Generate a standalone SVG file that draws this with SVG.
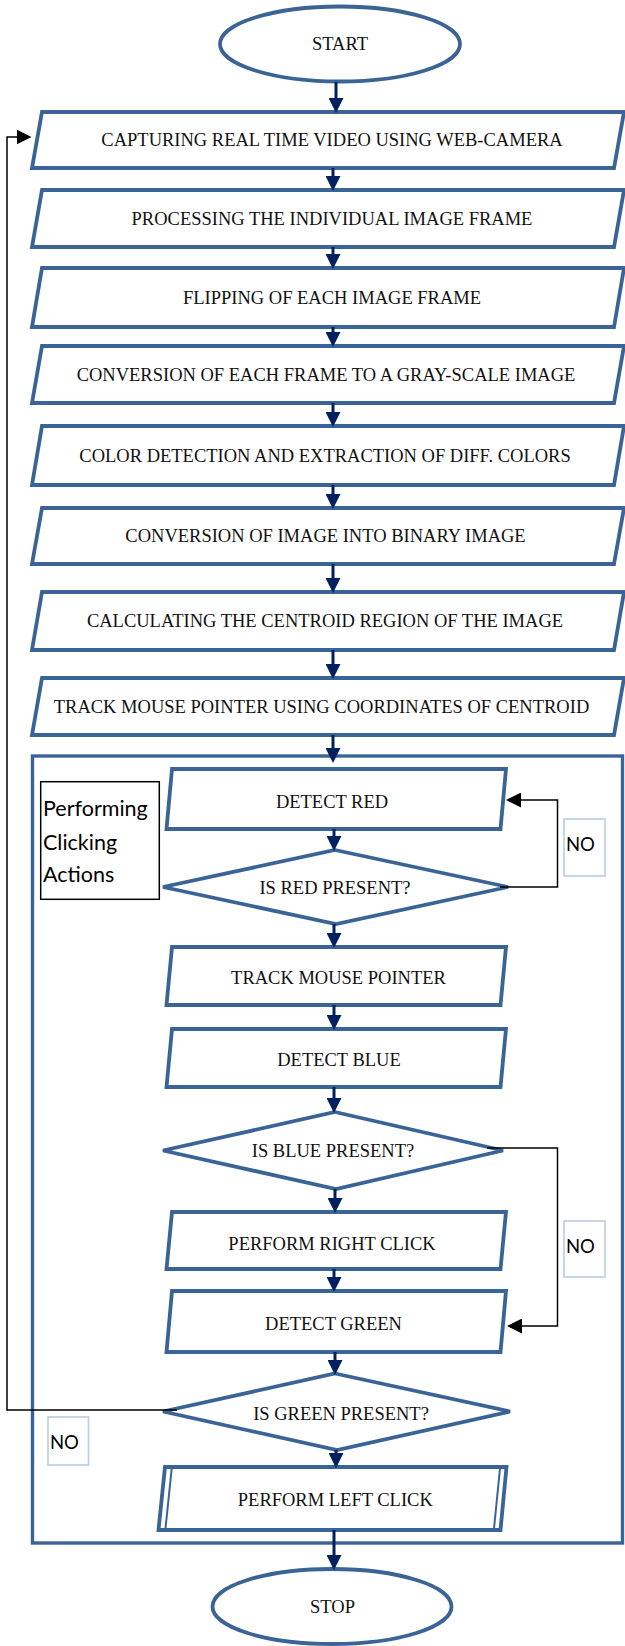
<svg xmlns="http://www.w3.org/2000/svg" width="625" height="1646" viewBox="0 0 625 1646">
  <style>
    .shape { fill: #ffffff; stroke: #3b6496; stroke-width: 3.8; stroke-linejoin: miter; }
    .frame { fill: none; stroke: #3b6496; stroke-width: 3.4; }
    .inner { fill: none; stroke: #3b6496; stroke-width: 2; }
    .lbl { font-family: "Liberation Serif", "Times New Roman", serif; font-size: 18.5px; fill: #111111; text-anchor: middle; }
    .note { font-family: Lato, "Liberation Sans", sans-serif; fill: #000000; }
    .flow { fill: none; stroke: #002060; stroke-width: 3; marker-end: url(#ah); }
    .loop { fill: none; stroke: #000000; stroke-width: 1.5; marker-end: url(#ahk); }
    .nobox { fill: #ffffff; stroke: #b9cde5; stroke-width: 1.6; }
  </style>
  <defs>
    <marker id="ah" viewBox="0 0 15 15" refX="4" refY="7.5" markerWidth="15" markerHeight="15" markerUnits="userSpaceOnUse" orient="auto">
      <path d="M0,0 L15,7.5 L0,15 z" fill="#002060"/>
    </marker>
    <marker id="ahk" viewBox="0 0 15 15" refX="3" refY="7.5" markerWidth="15" markerHeight="15" markerUnits="userSpaceOnUse" orient="auto">
      <path d="M0,0 L15,7.5 L0,15 z" fill="#000000"/>
    </marker>
  </defs>

  <rect width="625" height="1646" fill="#ffffff"/>

  <!-- group frame around the clicking section -->
  <g id="click-section">
    <rect class="frame" x="32.5" y="756" width="590" height="787"/>
  </g>

  <g id="start">
    <ellipse class="shape" cx="340" cy="44" rx="120" ry="37.5"/>
    <text class="lbl" x="340" y="50">START</text>
  </g>

  <g id="capture">
    <polygon class="shape" points="42,112 624,112 614,168 32,168"/>
    <text class="lbl" x="332" y="146">CAPTURING REAL TIME VIDEO USING WEB-CAMERA</text>
  </g>
  <g id="process">
    <polygon class="shape" points="42,190 624,190 614,247 32,247"/>
    <text class="lbl" x="332" y="224.5">PROCESSING THE INDIVIDUAL IMAGE FRAME</text>
  </g>
  <g id="flip">
    <polygon class="shape" points="42,268 624,268 614,327 32,327"/>
    <text class="lbl" x="332" y="303.5">FLIPPING OF EACH IMAGE FRAME</text>
  </g>
  <g id="gray">
    <polygon class="shape" points="42,346 624,346 614,403 32,403"/>
    <text class="lbl" x="326" y="380.5">CONVERSION OF EACH FRAME TO A GRAY-SCALE IMAGE</text>
  </g>
  <g id="color">
    <polygon class="shape" points="42,426 624,426 614,485 32,485"/>
    <text class="lbl" x="325" y="461.5">COLOR DETECTION AND EXTRACTION OF DIFF. COLORS</text>
  </g>
  <g id="binary">
    <polygon class="shape" points="42,508 624,508 614,564 32,564"/>
    <text class="lbl" x="325.5" y="542">CONVERSION OF IMAGE INTO BINARY IMAGE</text>
  </g>
  <g id="centroid">
    <polygon class="shape" points="42,592 624,592 614,650 32,650"/>
    <text class="lbl" x="325" y="627">CALCULATING THE CENTROID REGION OF THE IMAGE</text>
  </g>
  <g id="track-centroid">
    <polygon class="shape" points="42,678 624,678 614,735 32,735"/>
    <text class="lbl" x="321.5" y="712.5">TRACK MOUSE POINTER USING COORDINATES OF CENTROID</text>
  </g>

  <g id="section-title">
    <rect x="40.7" y="781.7" width="118.6" height="117.6" fill="#ffffff" stroke="#000000" stroke-width="1.5"/>
    <text class="note" font-size="21.5" x="43" y="816">Performing</text>
    <text class="note" font-size="21.5" x="43" y="850">Clicking</text>
    <text class="note" font-size="21.5" x="43" y="881.5">Actions</text>
  </g>

  <g id="detect-red">
    <polygon class="shape" points="172,769 506,769 500.5,829 166.5,829"/>
    <text class="lbl" x="332" y="808">DETECT RED</text>
  </g>
  <g id="is-red">
    <polygon class="shape" points="335,850 508,887 336,924 163,887"/>
    <text class="lbl" x="335" y="894">IS RED PRESENT?</text>
  </g>
  <g id="track-pointer">
    <polygon class="shape" points="172,947 506,947 500.5,1005 166.5,1005"/>
    <text class="lbl" x="338.5" y="983.5">TRACK MOUSE POINTER</text>
  </g>
  <g id="detect-blue">
    <polygon class="shape" points="172,1029 506,1029 500.5,1087 166.5,1087"/>
    <text class="lbl" x="339" y="1066">DETECT BLUE</text>
  </g>
  <g id="is-blue">
    <polygon class="shape" points="335,1112 503,1150.5 336,1189 163,1150.5"/>
    <text class="lbl" x="333" y="1157">IS BLUE PRESENT?</text>
  </g>
  <g id="right-click">
    <polygon class="shape" points="172,1212 506,1212 500.5,1269 166.5,1269"/>
    <text class="lbl" x="332" y="1249.5">PERFORM RIGHT CLICK</text>
  </g>
  <g id="detect-green">
    <polygon class="shape" points="172,1291 506,1291 500.5,1352 166.5,1352"/>
    <text class="lbl" x="333.5" y="1330">DETECT GREEN</text>
  </g>
  <g id="is-green">
    <polygon class="shape" points="335,1373.5 510,1411.5 337,1450 163,1411.5"/>
    <text class="lbl" x="341" y="1420">IS GREEN PRESENT?</text>
  </g>
  <g id="left-click">
    <polygon class="shape" points="165,1467 506.5,1467 500.5,1530 158.5,1530"/>
    <line class="inner" x1="171.7" y1="1468.5" x2="165.5" y2="1528.5"/>
    <line class="inner" x1="500" y1="1468.5" x2="494" y2="1528.5"/>
    <text class="lbl" x="335.3" y="1505.7">PERFORM LEFT CLICK</text>
  </g>

  <g id="stop">
    <ellipse class="shape" cx="332" cy="1606.5" rx="119.5" ry="37.5"/>
    <text class="lbl" x="332.5" y="1613">STOP</text>
  </g>

  <g id="no-labels">
    <rect class="nobox" x="564" y="819" width="41" height="57"/>
    <text class="note" font-size="18.5" x="566" y="851">NO</text>
    <rect class="nobox" x="564" y="1221" width="41" height="56"/>
    <text class="note" font-size="18.5" x="566" y="1252.5">NO</text>
    <rect class="nobox" x="48" y="1417" width="40.5" height="48"/>
    <text class="note" font-size="18.5" x="50" y="1449">NO</text>
  </g>

  <g id="connectors">
    <path class="flow" d="M336,82 V102"/>
    <path class="flow" d="M333,168 V180"/>
    <path class="flow" d="M333,247 V258"/>
    <path class="flow" d="M333,327 V336"/>
    <path class="flow" d="M333,403 V416"/>
    <path class="flow" d="M333,485 V498"/>
    <path class="flow" d="M333,564 V582"/>
    <path class="flow" d="M333,650 V668"/>
    <path class="flow" d="M333,735 V752"/>
    <path class="flow" d="M334,829 V840"/>
    <path class="flow" d="M334,924 V937"/>
    <path class="flow" d="M334,1005 V1019"/>
    <path class="flow" d="M334,1087 V1102"/>
    <path class="flow" d="M335,1189 V1202"/>
    <path class="flow" d="M334,1269 V1281"/>
    <path class="flow" d="M335,1352 V1364"/>
    <path class="flow" d="M336,1450 V1457"/>
    <path class="flow" d="M334,1530 V1559"/>
    <path class="loop" d="M500,887 H557.5 V800 H518"/>
    <path class="loop" d="M487,1148 H557.5 V1326 H519"/>
    <path class="loop" d="M177,1410 H7 V137 H19.5"/>
  </g>
</svg>
